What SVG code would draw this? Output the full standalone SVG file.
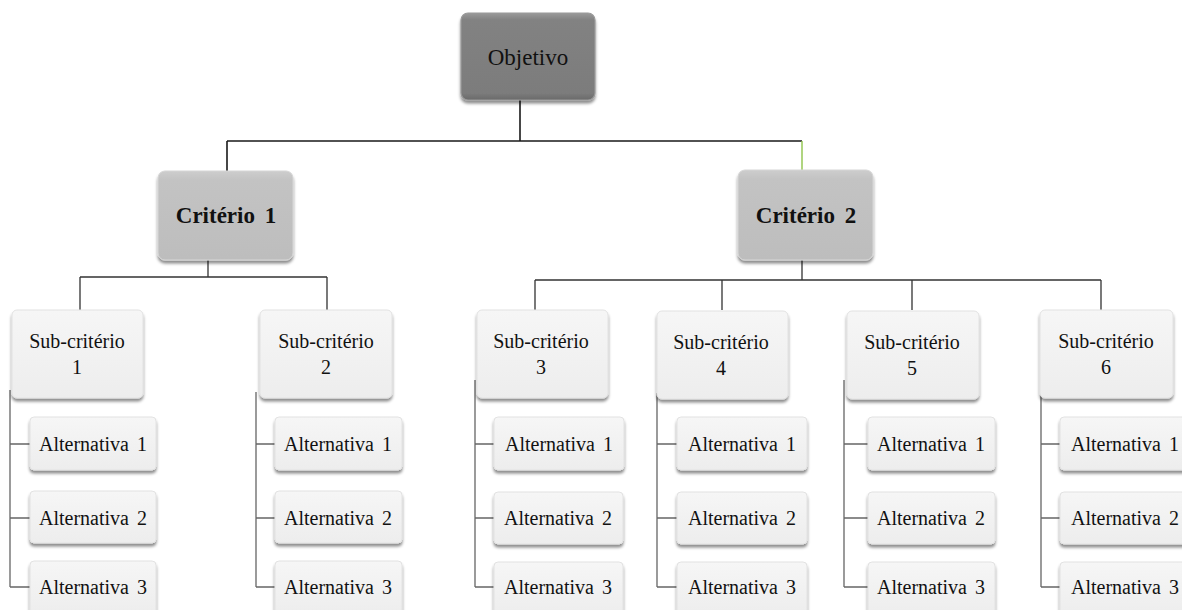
<svg xmlns="http://www.w3.org/2000/svg" width="1182" height="610" viewBox="0 0 1182 610">
  <style>
    text { fill: #111; text-anchor: middle; }
    .obj { font-size: 23px; }
    .crit { font-size: 23px; font-weight: bold; word-spacing: 4px; }
    .sub { font-size: 20px; }
    .alt { font-size: 20px; word-spacing: 3px; }
    .top { fill: url(#gTop); stroke: #9a9a9a; stroke-width: 1.2; filter: url(#shadow); }
    .crt { fill: url(#gCrit); stroke: #d6d6d6; stroke-width: 1; filter: url(#shadow); }
    .box { fill: url(#gLight); stroke: #e2e2e2; stroke-width: 1; filter: url(#shadow); }
    .ln-dark { stroke: #1a1a1a; stroke-width: 1.6; fill: none; }
    .ln-mid { stroke: #333; stroke-width: 1.3; fill: none; }
    .ln-grey { stroke: #666; stroke-width: 1.3; fill: none; }
    .ln-green { stroke: #8fc34a; stroke-width: 1.4; fill: none; }
  </style>
  <defs>
    <filter id="shadow" x="-10%" y="-10%" width="120%" height="130%">
      <feDropShadow dx="0" dy="3" stdDeviation="1.4" flood-color="#000" flood-opacity="0.45"/>
    </filter>
    <linearGradient id="gTop" x1="0" y1="0" x2="0" y2="1">
      <stop offset="0" stop-color="#9a9a9a"/>
      <stop offset="0.08" stop-color="#828282"/>
      <stop offset="0.92" stop-color="#7c7c7c"/>
      <stop offset="1" stop-color="#6a6a6a"/>
    </linearGradient>
    <linearGradient id="gCrit" x1="0" y1="0" x2="0" y2="1">
      <stop offset="0" stop-color="#cdcdcd"/>
      <stop offset="0.1" stop-color="#c3c3c3"/>
      <stop offset="1" stop-color="#bdbdbd"/>
    </linearGradient>
    <linearGradient id="gLight" x1="0" y1="0" x2="0" y2="1">
      <stop offset="0" stop-color="#f6f6f6"/>
      <stop offset="1" stop-color="#ededed"/>
    </linearGradient>
  </defs>

  <rect width="1182" height="610" fill="#fff"/>

  <!-- connectors -->
  <g id="connectors">
    <path class="ln-dark" d="M520 100 V141 M227 141 H802 M227 141 V171"/>
    <path class="ln-green" d="M802 141 V170"/>
    <path class="ln-mid" d="M208 260 V277 M80 277 H327 M80 277 V310 M327 277 V310"/>
    <path class="ln-mid" d="M802 260 V280 M535 280 H1101 M535 280 V310 M722 280 V310 M912 280 V310 M1101 280 V310"/>
    <!-- alternative branches -->
    <path class="ln-grey" d="M10 390 V587 M10 444 H30 M10 518 H30 M10 587 H30"/>
    <path class="ln-grey" d="M256 392 V587 M256 444 H275 M256 518 H275 M256 587 H275"/>
    <path class="ln-grey" d="M475 380 V587 M475 444 H494 M475 518 H494 M475 587 H494"/>
    <path class="ln-grey" d="M657 393 V587 M657 444 H677 M657 518 H677 M657 587 H677"/>
    <path class="ln-grey" d="M844 380 V587 M844 444 H868 M844 518 H868 M844 587 H868"/>
    <path class="ln-grey" d="M1041 395 V587 M1041 444 H1060 M1041 518 H1060 M1041 587 H1060"/>
  </g>

  <g font-family="'Liberation Serif', 'Times New Roman', Times, 'DejaVu Serif', serif">
  <!-- goal -->
  <g id="objetivo">
    <rect class="top" x="461" y="13" width="134" height="87" rx="7"/>
    <text class="obj" x="528" y="65">Objetivo</text>
  </g>

  <!-- criteria -->
  <g id="criterio-1">
    <rect class="crt" x="158" y="171" width="135" height="89" rx="7"/>
    <text class="crit" x="226" y="223">Critério 1</text>
  </g>
  <g id="criterio-2">
    <rect class="crt" x="738" y="170" width="135" height="90" rx="7"/>
    <text class="crit" x="806" y="223">Critério 2</text>
  </g>

  <!-- sub-criteria -->
  <g id="sub-criterio-1">
    <rect class="box" x="12" y="310" width="131" height="88" rx="5"/>
    <text class="sub" x="77" y="348">Sub-critério</text>
    <text class="sub" x="77" y="374">1</text>
  </g>
  <g id="sub-criterio-2">
    <rect class="box" x="260" y="310" width="132" height="88" rx="5"/>
    <text class="sub" x="326" y="348">Sub-critério</text>
    <text class="sub" x="326" y="374">2</text>
  </g>
  <g id="sub-criterio-3">
    <rect class="box" x="477" y="310" width="131" height="88" rx="5"/>
    <text class="sub" x="541" y="348">Sub-critério</text>
    <text class="sub" x="541" y="374">3</text>
  </g>
  <g id="sub-criterio-4">
    <rect class="box" x="657" y="311" width="131" height="88" rx="5"/>
    <text class="sub" x="721" y="349">Sub-critério</text>
    <text class="sub" x="721" y="375">4</text>
  </g>
  <g id="sub-criterio-5">
    <rect class="box" x="847" y="311" width="132" height="88" rx="5"/>
    <text class="sub" x="912" y="349">Sub-critério</text>
    <text class="sub" x="912" y="375">5</text>
  </g>
  <g id="sub-criterio-6">
    <rect class="box" x="1040" y="310" width="133" height="88" rx="5"/>
    <text class="sub" x="1106" y="348">Sub-critério</text>
    <text class="sub" x="1106" y="374">6</text>
  </g>

  <!-- alternatives, column 1 -->
  <g id="alt-1-1"><rect class="box" x="30" y="417" width="126" height="53" rx="4"/><text class="alt" x="93" y="451">Alternativa 1</text></g>
  <g id="alt-1-2"><rect class="box" x="30" y="491" width="126" height="52" rx="4"/><text class="alt" x="93" y="525">Alternativa 2</text></g>
  <g id="alt-1-3"><rect class="box" x="30" y="561" width="126" height="54" rx="4"/><text class="alt" x="93" y="594">Alternativa 3</text></g>

  <!-- alternatives, column 2 -->
  <g id="alt-2-1"><rect class="box" x="275" y="417" width="127" height="53" rx="4"/><text class="alt" x="338" y="451">Alternativa 1</text></g>
  <g id="alt-2-2"><rect class="box" x="275" y="491" width="127" height="52" rx="4"/><text class="alt" x="338" y="525">Alternativa 2</text></g>
  <g id="alt-2-3"><rect class="box" x="275" y="561" width="127" height="54" rx="4"/><text class="alt" x="338" y="594">Alternativa 3</text></g>

  <!-- alternatives, column 3 -->
  <g id="alt-3-1"><rect class="box" x="494" y="417" width="130" height="53" rx="4"/><text class="alt" x="559" y="451">Alternativa 1</text></g>
  <g id="alt-3-2"><rect class="box" x="494" y="492" width="129" height="52" rx="4"/><text class="alt" x="558" y="525">Alternativa 2</text></g>
  <g id="alt-3-3"><rect class="box" x="494" y="562" width="129" height="54" rx="4"/><text class="alt" x="558" y="594">Alternativa 3</text></g>

  <!-- alternatives, column 4 -->
  <g id="alt-4-1"><rect class="box" x="677" y="417" width="130" height="53" rx="4"/><text class="alt" x="742" y="451">Alternativa 1</text></g>
  <g id="alt-4-2"><rect class="box" x="677" y="492" width="130" height="52" rx="4"/><text class="alt" x="742" y="525">Alternativa 2</text></g>
  <g id="alt-4-3"><rect class="box" x="677" y="562" width="130" height="54" rx="4"/><text class="alt" x="742" y="594">Alternativa 3</text></g>

  <!-- alternatives, column 5 -->
  <g id="alt-5-1"><rect class="box" x="868" y="417" width="127" height="53" rx="4"/><text class="alt" x="931" y="451">Alternativa 1</text></g>
  <g id="alt-5-2"><rect class="box" x="868" y="492" width="127" height="52" rx="4"/><text class="alt" x="931" y="525">Alternativa 2</text></g>
  <g id="alt-5-3"><rect class="box" x="868" y="562" width="127" height="54" rx="4"/><text class="alt" x="931" y="594">Alternativa 3</text></g>

  <!-- alternatives, column 6 -->
  <g id="alt-6-1"><rect class="box" x="1060" y="417" width="130" height="53" rx="4"/><text class="alt" x="1125" y="451">Alternativa 1</text></g>
  <g id="alt-6-2"><rect class="box" x="1060" y="492" width="130" height="52" rx="4"/><text class="alt" x="1125" y="525">Alternativa 2</text></g>
  <g id="alt-6-3"><rect class="box" x="1060" y="562" width="130" height="54" rx="4"/><text class="alt" x="1125" y="594">Alternativa 3</text></g>
  </g>
</svg>
